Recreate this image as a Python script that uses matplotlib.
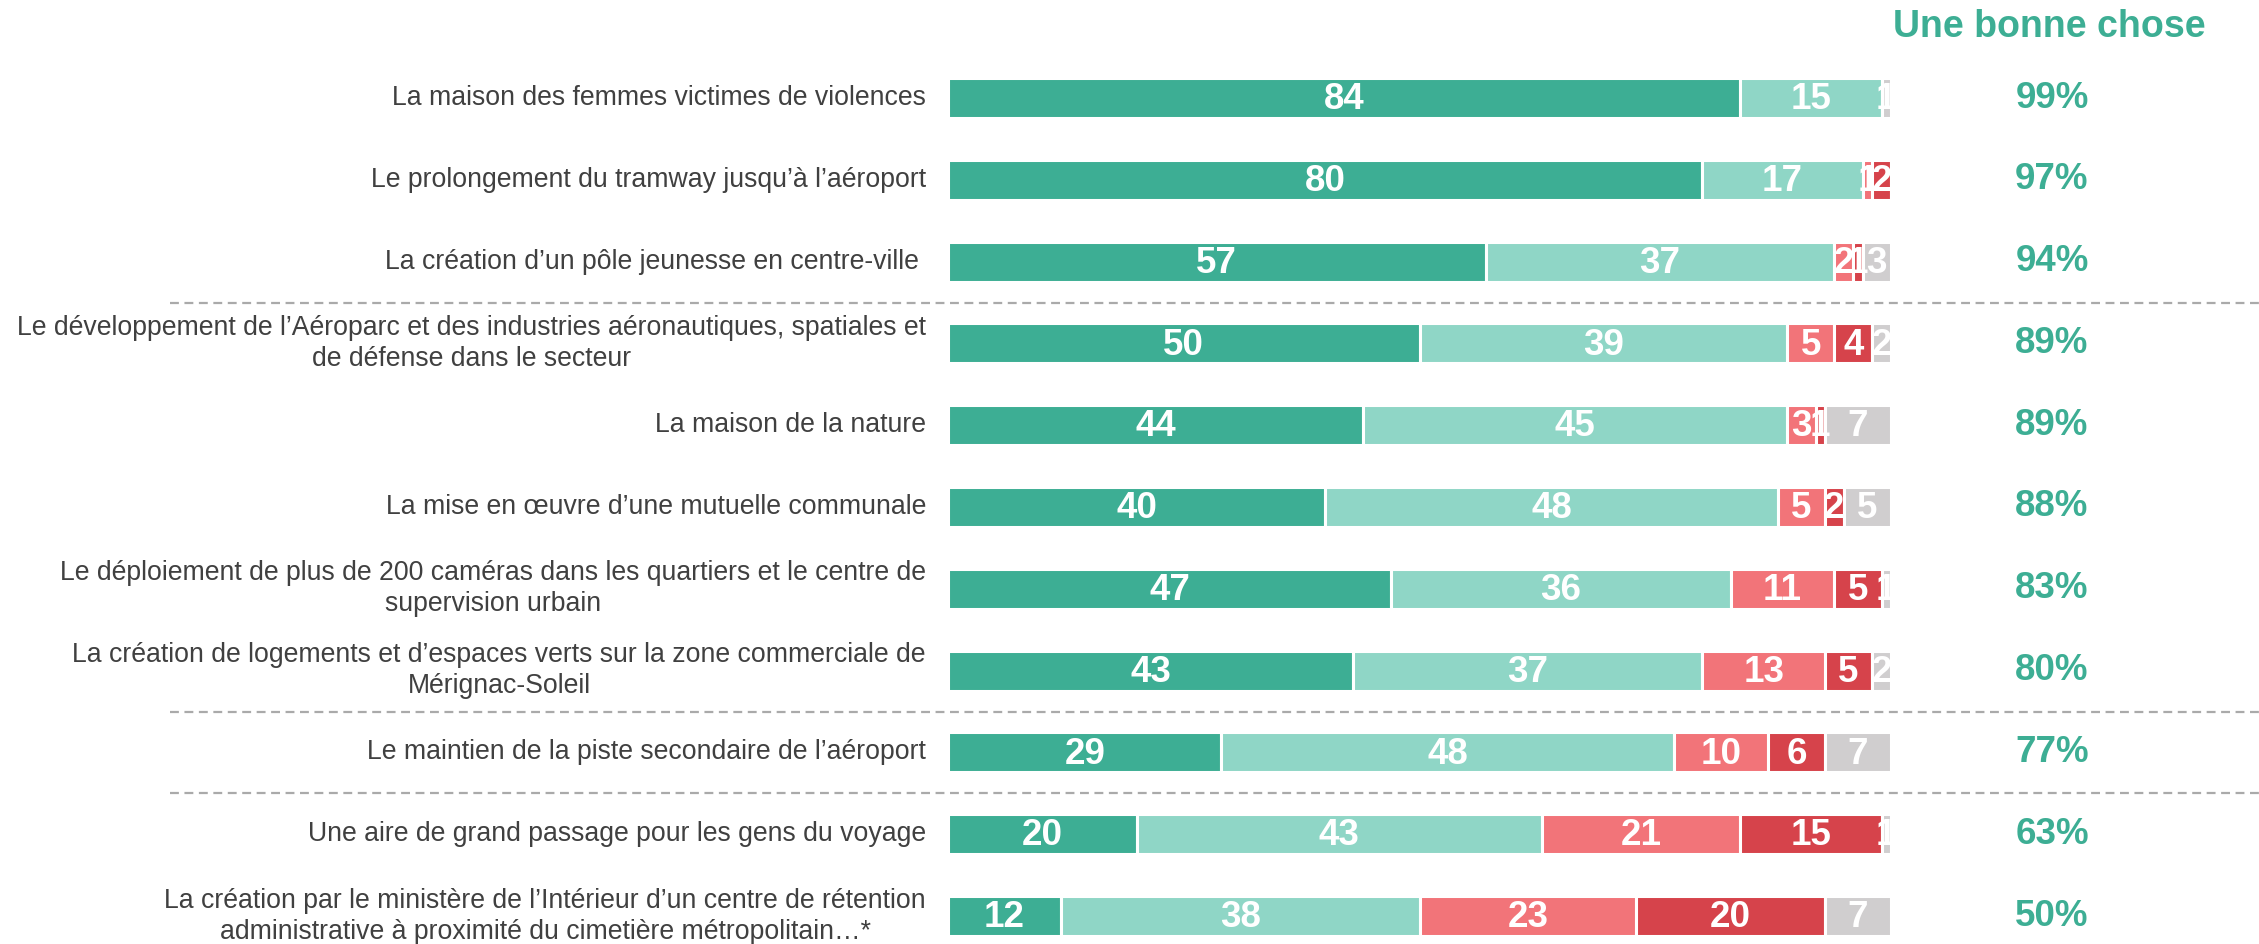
import matplotlib
matplotlib.use("Agg")
import matplotlib.pyplot as plt
from matplotlib.transforms import blended_transform_factory

labels = [
    "La maison des femmes victimes de violences",
    "Le prolongement du tramway jusqu\u2019à l\u2019aéroport",
    "La création d\u2019un pôle jeunesse en centre-ville ",
    "Le développement de l\u2019Aéroparc et des industries aéronautiques, spatiales et\nde défense dans le secteur",
    "La maison de la nature",
    "La mise en \u0153uvre d\u2019une mutuelle communale",
    "Le déploiement de plus de 200 caméras dans les quartiers et le centre de\nsupervision urbain",
    "La création de logements et d\u2019espaces verts sur la zone commerciale de\nMérignac-Soleil",
    "Le maintien de la piste secondaire de l\u2019aéroport",
    "Une aire de grand passage pour les gens du voyage",
    "La création par le ministère de l\u2019Intérieur d\u2019un centre de rétention\nadministrative à proximité du cimetière métropolitain\u2026*",
]
tres_bonne = [84, 80, 57, 50, 44, 40, 47, 43, 29, 20, 12]
plutot_bonne = [15, 17, 37, 39, 45, 48, 36, 37, 48, 43, 38]
plutot_mauvaise = [0, 1, 2, 5, 3, 5, 11, 13, 10, 21, 23]
tres_mauvaise = [0, 2, 1, 4, 1, 2, 5, 5, 6, 15, 20]
nsp = [1, 0, 3, 2, 7, 5, 1, 2, 7, 1, 7]
bonne_chose = [99, 97, 94, 89, 89, 88, 83, 80, 77, 63, 50]
separators_after = [2, 7, 8]

series = [tres_bonne, plutot_bonne, plutot_mauvaise, tres_mauvaise, nsp]
colors = ["#3dae94", "#8fd6c6", "#f27479", "#d6434b", "#d0cecf"]

W, H = 2259, 944
fig = plt.figure(figsize=(W / 100, H / 100), dpi=100)
x0, x1 = 948, 1891
ax = fig.add_axes([x0 / W, 0, (x1 - x0) / W, 1])
ax.set_xlim(0, 100)
spacing = 81.8
first = 98
ax.set_ylim((H - first) / spacing, -first / spacing)
ax.axis("off")

n = len(labels)
ys = list(range(n))
left = [0] * n
for vals, col in zip(series, colors):
    bars = ax.barh(ys, vals, left=left, height=0.49, color=col,
                   edgecolor="white", linewidth=2.2)
    for b, v, l, y in zip(bars, vals, left, ys):
        if v > 0:
            t = ax.text(l + v / 2, y + 0.02, str(v), ha="center", va="center",
                        color="white", fontsize=26.5, fontweight="bold",
                        family="Liberation Sans")
            t.set_clip_path(b)
    left = [a + b for a, b in zip(left, vals)]

tr = blended_transform_factory(fig.transFigure, ax.transData)
for y, lab in zip(ys, labels):
    ax.text(926 / W, y, lab, transform=tr, ha="right", va="center",
            multialignment="center",
            fontsize=19.2, color="#404040", family="Liberation Sans",
            linespacing=1.25)
    ax.text(2052 / W, y, f"{bonne_chose[y]}%", transform=tr, ha="center",
            va="center", fontsize=26.5, fontweight="bold", color="#3dae94",
            family="Liberation Sans")

fig.text(2049 / W, 1 - 27 / H, "Une bonne chose", ha="center", va="center",
         fontsize=27, fontweight="bold", color="#3dae94",
         family="Liberation Sans")

for s in separators_after:
    ax.plot([170 / W, 1.0], [s + 0.5, s + 0.5], transform=tr,
            color="#aaaaaa", linewidth=1.6, linestyle=(0, (4, 2.5)),
            clip_on=False)

fig.savefig("out.png", dpi=100)
